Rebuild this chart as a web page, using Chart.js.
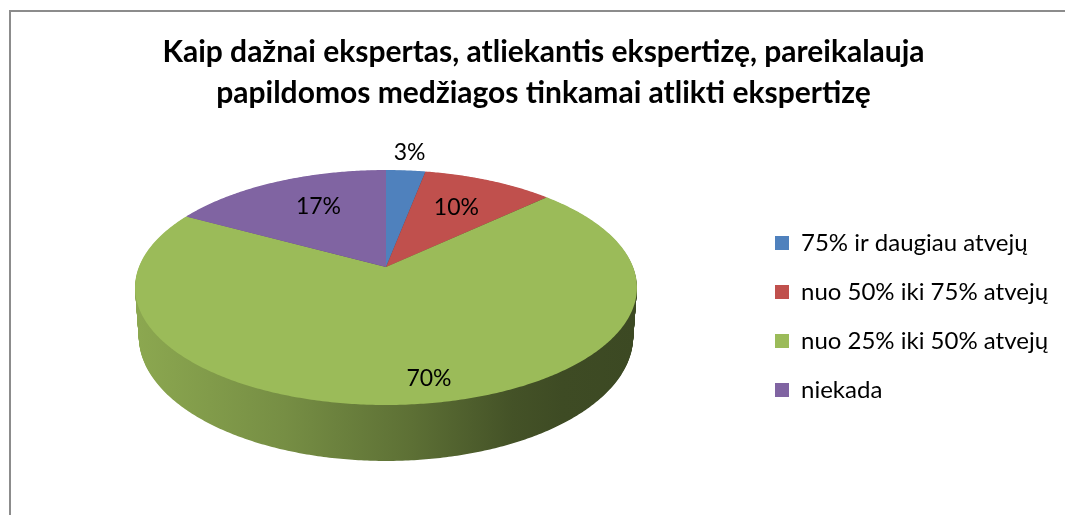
<!DOCTYPE html>
<html>
<head>
<meta charset="utf-8">
<script src="https://cdn.jsdelivr.net/npm/chart.js@4.4.0/dist/chart.umd.min.js"></script>
<style>
html,body{margin:0;padding:0;background:#fff;overflow:hidden;}
canvas{display:block;}
</style>
</head>
<body>
<canvas id="c" width="1065" height="515"></canvas>
<script>
const titleLines = ['Kaip dažnai ekspertas, atliekantis ekspertizę, pareikalauja', 'papildomos medžiagos tinkamai atlikti ekspertizę'];
const categories = ['75% ir daugiau atvejų', 'nuo 50% iki 75% atvejų', 'nuo 25% iki 50% atvejų', 'niekada'];
const values = [3, 10, 70, 17];
const colors = ['#4F81BD', '#C0504D', '#9BBB59', '#8064A2'];

function shade(hex, f) {
  const n = parseInt(hex.slice(1), 16);
  const r = Math.round(((n >> 16) & 255) * f), g = Math.round(((n >> 8) & 255) * f), b = Math.round((n & 255) * f);
  return 'rgb(' + r + ',' + g + ',' + b + ')';
}

const pie3d = {
  id: 'pie3d',
  beforeLayout(chart, args, o) {
    const lg = chart.legend;
    if (lg && !lg.__patched) {
      const f = lg.fit;
      lg.fit = function () { f.call(this); this.width = o.legendWidth; };
      lg.__patched = true;
    }
  },
  afterLayout(chart, args, o) {
    const lg = chart.legend;
    if (lg) { lg.top += o.legendDy; lg.bottom += o.legendDy; }
  },
  beforeDraw(chart, args, o) {
    const ctx = chart.ctx;
    ctx.save();
    ctx.fillStyle = '#fff';
    ctx.fillRect(0, 0, chart.width, chart.height);
    ctx.fillStyle = o.frameColor;
    ctx.fillRect(9, 10, 2, chart.height);
    ctx.fillRect(9, 10, chart.width, 2);
    ctx.restore();
  },
  beforeDatasetsDraw(chart, args, o) {
    const meta = chart.getDatasetMeta(0);
    const arcs = meta.data;
    if (!arcs.length) return;
    const ctx = chart.ctx;
    const cx = arcs[0].x, cy = arcs[0].y + o.apexDy;
    const proj = (ang, r, h) => {
      const u = r * Math.cos(ang), v = r * Math.sin(ang);
      const den = 1 + o.k * v;
      const s = 1 - o.shrink * h;
      return [cx + o.rx * u * s / den, cy + (o.ry * v * s + o.depth * h) / den];
    };
    const path = (el, h) => {
      ctx.beginPath();
      const p0 = proj(0, 0, h);
      ctx.moveTo(p0[0], p0[1]);
      const a0 = el.startAngle, a1 = el.endAngle;
      const n = Math.max(2, Math.ceil((a1 - a0) / 0.01));
      for (let i = 0; i <= n; i++) {
        const a = a0 + (a1 - a0) * i / n;
        const p = proj(a, 1, h);
        ctx.lineTo(p[0], p[1]);
      }
      ctx.closePath();
    };
    ctx.save();
    const grads = arcs.map(el => {
      const g = ctx.createLinearGradient(cx - o.rx * 1.02, 0, cx + o.rx * 1.02, 0);
      o.sideStops.forEach(s => g.addColorStop(s[0], shade(el.options.backgroundColor, s[1])));
      return g;
    });
    const steps = Math.ceil(o.depth * 1.4);
    for (let s = steps; s >= 1; s--) {
      const h = s / steps;
      arcs.forEach((el, i) => { path(el, h); ctx.fillStyle = grads[i]; ctx.fill(); });
    }
    arcs.forEach(el => { path(el, 0); ctx.fillStyle = el.options.backgroundColor; ctx.fill(); });
    // labels
    ctx.fillStyle = o.labelColor;
    ctx.font = o.labelFont;
    ctx.textAlign = 'center';
    ctx.textBaseline = 'middle';
    const total = values.reduce((a, b) => a + b, 0);
    arcs.forEach((el, i) => {
      const mid = (el.startAngle + el.endAngle) / 2 + o.labelTurn[i];
      const p = proj(mid, o.labelRadius[i], 0);
      ctx.fillText(Math.round(values[i] / total * 100) + '%', p[0], p[1]);
    });
    ctx.restore();
    return false;
  }
};

Chart.defaults.color = '#000';
new Chart(document.getElementById('c'), {
  type: 'pie',
  data: {
    labels: categories,
    datasets: [{ data: values, backgroundColor: colors, borderWidth: 0 }]
  },
  options: {
    responsive: false,
    animation: false,
    devicePixelRatio: 1,
    layout: { padding: { left: 22, top: 14, right: 0, bottom: 4 } },
    plugins: {
      title: {
        display: true,
        text: titleLines,
        color: '#000',
        font: { family: 'Lato', weight: 'bold', size: 30, lineHeight: 1.367 },
        padding: { top: 18, bottom: 10 }
      },
      legend: {
        position: 'right',
        labels: {
          color: '#000',
          font: { family: 'Lato', size: 24 },
          boxWidth: 14,
          boxHeight: 14,
          padding: 25
        }
      },
      tooltip: { enabled: false },
      pie3d: {
        legendWidth: 315,
        legendDy: 54,
        frameColor: '#8c8c8c',
        apexDy: -50.5,
        rx: 247.1,
        ry: 113.9,
        k: -0.1745,
        depth: 47.9,
        shrink: 0.015,
        sideStops: [[0, 0.9], [0.3, 0.76], [0.55, 0.6], [0.75, 0.44], [0.85, 0.4], [1, 0.39]],
        labelRadius: [1.23, 0.65, 0.85, 0.66],
        labelTurn: [0, 0, -0.05, 0.06],
        labelColor: '#000',
        labelFont: '23px Lato'
      }
    }
  },
  plugins: [pie3d]
});
</script>
</body>
</html>
